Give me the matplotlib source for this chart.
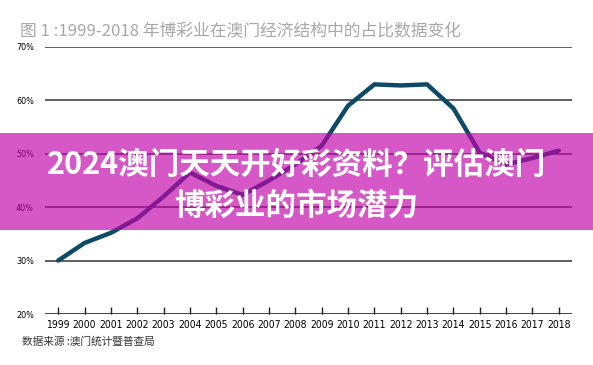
import matplotlib
matplotlib.use("Agg")
import matplotlib.pyplot as plt
from matplotlib.patches import Rectangle

years = list(range(1999, 2019))
share = [30.0, 33.3, 35.2, 37.9, 42.0, 46.5, 44.0, 42.3, 45.0, 48.0,
         51.5, 59.0, 63.0, 62.8, 63.0, 58.5, 50.2, 48.0, 49.2, 50.6]
y_ticks = [20, 30, 40, 50, 60, 70]

title = "图 1 :1999-2018 年博彩业在澳门经济结构中的占比数据变化"
source = "数据来源 :澳门统计暨普查局"
banner = "2024澳门天天开好彩资料？评估澳门\n博彩业的市场潜力"

cjk = ["Noto Sans CJK SC", "DejaVu Sans"]

fig = plt.figure(figsize=(5.93, 3.65), dpi=100)
ax = fig.add_axes([45 / 593, 1 - 314 / 365, 527 / 593, 267 / 365])

ax.plot(years, share, color="#0d4a66", linewidth=3.2, solid_capstyle="round",
        solid_joinstyle="round", zorder=3)

for v in y_ticks[1:]:
    ax.axhline(v, color="#444444", linewidth=1.2, zorder=1)
ax.axhline(20, color="#222222", linewidth=1.2, zorder=1)

ax.set_xlim(1998.5, 2018.5)
ax.set_ylim(20, 70)
for s in ax.spines.values():
    s.set_visible(False)

ax.set_yticks(y_ticks)
ax.set_yticklabels([f"{v}%" for v in y_ticks], family="DejaVu Sans",
                   fontstretch="condensed", fontsize=6.5)
ax.tick_params(axis="y", length=0, pad=8)
ax.set_xticks(years)
ax.set_xticklabels([str(y) for y in years], family="DejaVu Sans",
                   fontstretch="condensed", fontsize=7.5)
ax.tick_params(axis="x", direction="in", length=5, width=1, color="#222222", pad=4)

fig.text(20 / 593, 1 - 32 / 365, title, family=cjk, fontsize=12.1, color="#a8a8a8",
         va="center", ha="left", fontweight="light")
fig.text(22 / 593, 1 - 342 / 365, source, family=cjk, fontsize=7.7, color="#333333",
         va="center", ha="left")

# translucent magenta banner
fig.patches.append(Rectangle((0, 1 - 230 / 365), 1, 97 / 365, transform=fig.transFigure,
                             facecolor=(194 / 255, 2 / 255, 171 / 255), alpha=0.66,
                             edgecolor="none", zorder=5))
fig.text(0.5, 1 - 185 / 365, banner, family=cjk, fontsize=22, fontweight="heavy",
         color="white", ha="center", va="center", linespacing=1.35, zorder=6)

fig.savefig("out.png", dpi=100)
